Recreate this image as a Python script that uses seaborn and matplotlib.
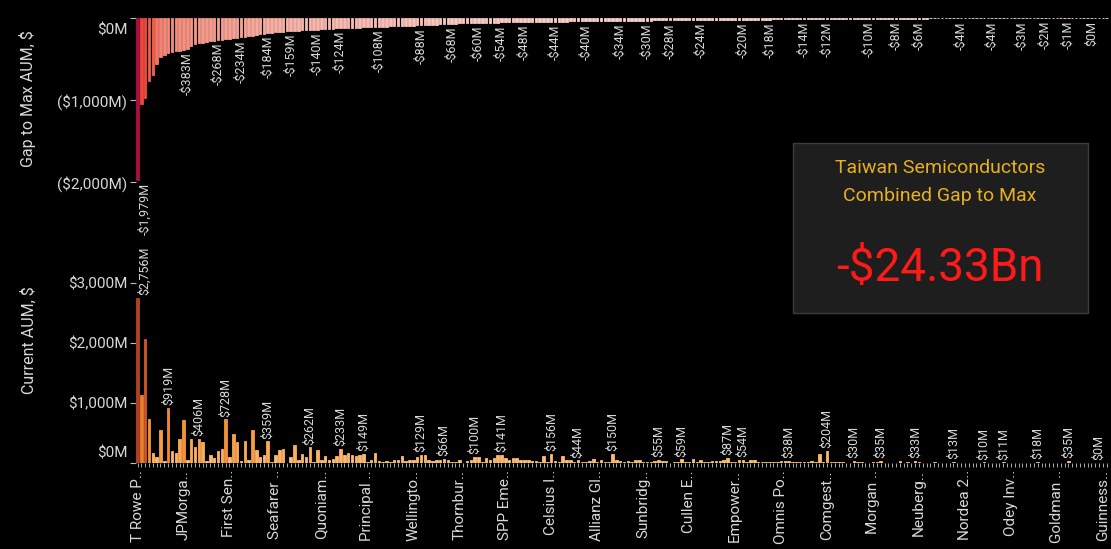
import pandas as pd
import seaborn as sns
import matplotlib.pyplot as plt
from matplotlib import font_manager
from matplotlib.colors import LinearSegmentedColormap
from matplotlib.patches import Rectangle
from matplotlib.transforms import ScaledTranslation

# gap to max AUM per fund, $M (drawn as negative bars)
gap_to_max = [
    1979, 1050, 975, 767, 690, 560, 480, 450, 425, 412,
    405, 398, 390, 383, 340, 322, 308, 300, 294, 286,
    276, 268, 262, 256, 251, 246, 242, 234, 230, 224,
    214, 205, 196, 189, 184, 180, 176, 171, 166, 162,
    159, 156, 153, 150, 148, 146, 143, 140, 138, 135,
    132, 130, 127, 124, 122, 121, 119, 118, 116, 115,
    113, 111, 110, 108, 106, 104, 102, 100, 98, 96,
    94, 92, 91, 89, 88, 86, 84, 82, 79, 76,
    74, 71, 68, 67, 66, 65, 64, 63, 61, 60,
    59, 58, 57, 56, 55, 54, 53, 52, 51, 50,
    49, 48, 48, 47, 47, 46, 46, 45, 45, 44,
    44, 43, 43, 42, 41, 41, 40, 40, 39, 39,
    38, 37, 37, 36, 35, 35, 34, 33, 33, 32,
    31, 31, 30, 30, 30, 29, 29, 29, 28, 28,
    27, 27, 27, 26, 26, 25, 25, 24, 24, 23,
    23, 22, 22, 21, 21, 21, 20, 20, 20, 19,
    19, 19, 19, 18, 18, 18, 17, 17, 16, 16,
    16, 15, 15, 14, 14, 14, 13, 13, 12, 12,
    12, 12, 11, 11, 11, 11, 11, 10, 10, 10,
    10, 10, 9, 9, 9, 9, 8, 8, 8, 8,
    7, 7, 7, 6, 6, 6, 6, 5, 5, 5,
    5, 5, 4, 4, 4, 4, 4, 4, 4, 4,
    4, 4, 4, 4, 3, 3, 3, 3, 3, 3,
    3, 3, 2, 2, 2, 2, 2, 2, 2, 1,
    1, 1, 1, 1, 1, 1, 1, 0, 0, 0,
    0, 0, 0, 0,
]

# current AUM per fund, $M
current_aum = [
    2756, 1130, 2070, 739, 172, 105, 555, 39, 919, 205,
    172, 400, 722, 55, 400, 272, 406, 355, 39, 139,
    89, 205, 239, 728, 105, 489, 355, 39, 372, 55,
    555, 222, 105, 139, 359, 22, 139, 222, 239, 5,
    105, 305, 55, 155, 105, 262, 22, 222, 44, 111,
    44, 72, 111, 233, 128, 167, 128, 111, 128, 149,
    17, 56, 167, 33, 11, 33, 17, 56, 56, 111,
    33, 44, 44, 100, 129, 128, 44, 33, 56, 44,
    66, 44, 22, 11, 44, 2, 33, 56, 100, 100,
    11, 89, 56, 89, 128, 141, 89, 44, 89, 89,
    56, 44, 44, 33, 33, 11, 111, 17, 156, 33,
    17, 111, 44, 56, 17, 44, 17, 17, 33, 67,
    11, 56, 11, 22, 150, 56, 33, 11, 33, 11,
    44, 56, 11, 11, 11, 33, 55, 33, 33, 2,
    11, 22, 59, 11, 11, 61, 11, 56, 11, 11,
    33, 33, 33, 44, 87, 11, 11, 50, 54, 11,
    44, 44, 11, 11, 22, 22, 11, 11, 33, 33,
    38, 11, 11, 11, 11, 11, 33, 22, 155, 11,
    204, 11, 11, 11, 11, 6, 8, 30, 15, 15,
    4, 4, 15, 22, 35, 5, 3, 6, 4, 40,
    8, 20, 5, 33, 22, 3, 5, 4, 18, 3,
    5, 2, 4, 13, 3, 6, 2, 4, 3, 5,
    2, 10, 3, 4, 2, 5, 11, 3, 2, 4,
    3, 2, 4, 3, 2, 18, 3, 2, 4, 2,
    3, 2, 4, 35, 2, 3, 2, 4, 2, 3,
    2, 0, 3, 2,
]

tick_names = [
    "T Rowe P..", "JPMorga..", "First Sen..", "Seafarer ..", "Quoniam..",
    "Principal ..", "Wellingto..", "Thornbur..", "SPP Eme..", "Celsius I..",
    "Allianz Gl..", "Sunbridg..", "Cullen E..", "Empower..", "Omnis Po..",
    "Comgest..", "Morgan ..", "Neuberg..", "Nordea 2..", "Odey Inv..",
    "Goldman ..", "Guinness..",
]
tick_every = 12

gap_label_idx = [0, 13, 21, 27, 34, 40, 47, 53, 63, 74, 82, 89, 95, 101, 109,
                 117, 126, 133, 139, 147, 158, 165, 174, 180, 191, 198, 204,
                 215, 223, 231, 237, 243, 249]
aum_label_idx = [0, 8, 16, 23, 34, 45, 53, 59, 74, 80, 88, 95, 108, 115, 124,
                 136, 142, 154, 158, 170, 180, 187, 194, 203, 213, 221, 226,
                 235, 243, 251]

stock_name = "Taiwan Semiconductors"
combined_gap_bn = -24.33

n = len(gap_to_max)
df = pd.DataFrame({
    'rank': range(n),
    'gap': [-g for g in gap_to_max],
    'aum': current_aum,
})

sns.set_theme(style='dark')
installed = {f.name for f in font_manager.fontManager.ttflist}
main_font = 'Liberation Sans Narrow' if 'Liberation Sans Narrow' in installed else 'Roboto'
plt.rcParams['font.family'] = [main_font, 'DejaVu Sans']

txt_col = '#d8d8d8'

red_cmap = LinearSegmentedColormap.from_list('gap', [
    (0.0, '#fcd9d4'), (0.05, '#f9bfb7'), (0.12, '#f5a294'), (0.22, '#f28a7a'),
    (0.35, '#f1634f'), (0.5, '#ef4b3d'), (0.75, '#d32c3c'), (1.0, '#ad0e3d')])
orange_cmap = LinearSegmentedColormap.from_list('aum', [
    (0.0, '#fdc27a'), (0.1, '#fbb060'), (0.2, '#f79c45'), (0.35, '#f1852f'),
    (0.55, '#e06a2a'), (0.8, '#c9522a'), (1.0, '#b0421f')])

gmax = max(gap_to_max)
amax = max(current_aum)
gap_colors = {i: red_cmap(g / gmax) for i, g in enumerate(gap_to_max)}
aum_colors = {i: orange_cmap(a / amax) for i, a in enumerate(current_aum)}


def money(v):
    s = f"${abs(v):,.0f}M"
    return "-" + s if v < 0 else s


def paren(v):
    return f"(${abs(v):,.0f}M)" if v < 0 else f"${v:,.0f}M"


W, H = 1111, 549
fig = plt.figure(figsize=(W / 100, H / 100), dpi=100, facecolor='black')
left = 135.6 / W
width = 973 / W
ax_bot = fig.add_axes([left, 1 - 463 / H, width, 246 / H])
ax_top = fig.add_axes([left, 1 - 182 / H, width, 166 / H])

sns.barplot(data=df, x='rank', y='gap', hue='rank', palette=gap_colors,
            legend=False, saturation=1, width=0.66, ax=ax_top)
sns.barplot(data=df, x='rank', y='aum', hue='rank', palette=aum_colors,
            legend=False, saturation=1, width=0.66, ax=ax_bot)

for ax in (ax_top, ax_bot):
    ax.patch.set_alpha(0)
    for p in ax.patches:
        # edge in the bar's own colour keeps near-zero bars visible as dashes
        p.set_edgecolor(p.get_facecolor())
        p.set_linewidth(0.6)
    for s in ax.spines.values():
        s.set_visible(False)
    ax.grid(False)
    ax.set_xlabel('')
    ax.tick_params(axis='y', left=True, length=4, width=0.8, color='#bbbbbb',
                   labelcolor=txt_col, labelsize=11, pad=2)

# top panel
ax_top.set_ylim(-2000, 25)
ax_top.set_xlim(-0.5, n - 0.5)
ax_top.tick_params(axis='x', bottom=False, labelbottom=False)
top_ticks = [0, -1000, -2000]
ax_top.set_yticks(top_ticks)
ax_top.set_yticklabels([paren(t) for t in top_ticks])
ax_top.set_ylabel('Gap to Max AUM, $', color=txt_col, fontsize=11.5)
ax_top.yaxis.set_label_coords(-0.102, 0.5)

for i in gap_label_idx:
    v = -gap_to_max[i]
    dx = 5 if i == 0 else 0
    ax_top.annotate(money(v), (i, v), xytext=(dx, -2), textcoords='offset points',
                    rotation=90, ha='center', va='top', fontsize=9,
                    color=txt_col, annotation_clip=False)

# bottom panel
ax_bot.set_ylim(0, 4100)
ax_bot.set_xlim(-0.5, n - 0.5)
bot_ticks = [0, 1000, 2000, 3000]
ax_bot.set_yticks(bot_ticks)
ax_bot.set_yticklabels([paren(t) for t in bot_ticks])
ax_bot.set_ylabel('Current AUM, $', color=txt_col, fontsize=11.5)
ax_bot.yaxis.set_label_coords(-0.102, 0.5)

xlabels = [''] * n
for k, name in enumerate(tick_names):
    xlabels[k * tick_every] = name
ax_bot.set_xticks(range(n))
ax_bot.set_xticklabels(xlabels, rotation=90)
ax_bot.tick_params(axis='x', bottom=True, length=3, width=0.7, color='#aaaaaa',
                   labelcolor=txt_col, labelsize=11, pad=2)

for i in aum_label_idx:
    v = current_aum[i]
    dx = 5 if i == 0 else 0
    ax_bot.annotate(money(v), (i, v), xytext=(dx, 2), textcoords='offset points',
                    rotation=90, ha='center', va='bottom', fontsize=9,
                    color=txt_col, annotation_clip=False)

# nudge the two $0M labels away from each other's panel edge
shift = 8 / 72
lab = ax_top.get_yticklabels()[0]
lab.set_transform(lab.get_transform() + ScaledTranslation(0, -shift, fig.dpi_scale_trans))
lab = ax_bot.get_yticklabels()[0]
lab.set_transform(lab.get_transform() + ScaledTranslation(0, shift, fig.dpi_scale_trans))

# summary box
fig.patches.append(Rectangle((793 / W, 1 - 313 / H), 295 / W, 170 / H,
                             transform=fig.transFigure, facecolor='#1e1e1e',
                             edgecolor='#3c3c3c', linewidth=1))
cx = 940 / W
fig.text(cx, 1 - 168 / H, stock_name, color='#e8b020', fontsize=14,
         ha='center', va='center')
fig.text(cx, 1 - 196 / H, 'Combined Gap to Max', color='#e8b020', fontsize=14,
         ha='center', va='center')
fig.text(cx, 1 - 268 / H, f"-${abs(combined_gap_bn):.2f}Bn", color='#ff1a1a',
         fontsize=33, ha='center', va='center')

fig.savefig('out.png', dpi=100, facecolor='black')
